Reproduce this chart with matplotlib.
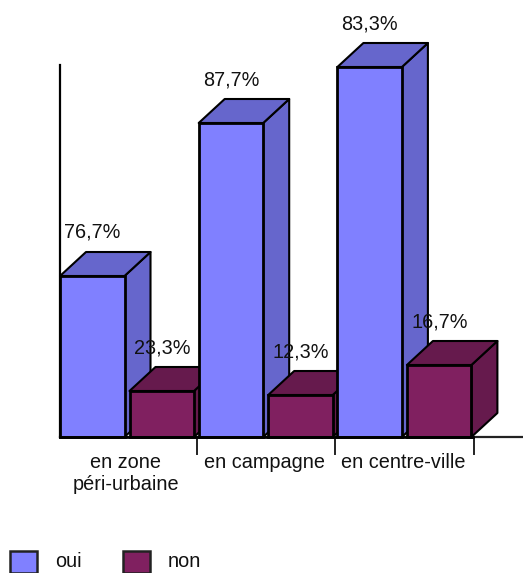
import matplotlib
matplotlib.use("Agg")
import matplotlib.pyplot as plt
from matplotlib.patches import Polygon, Rectangle

plt.rcParams['font.family'] = ['Liberation Sans', 'DejaVu Sans']

categories = ["en zone\npéri-urbaine", "en campagne", "en centre-ville"]
series_names = ["oui", "non"]
# drawn heights do not follow the printed percents in the source chart
oui_heights = [161, 314, 370]
non_heights = [46, 42, 72]
oui_labels = ["76,7%", "87,7%", "83,3%"]
non_labels = ["23,3%", "12,3%", "16,7%"]

BLUE = "#8080ff"
BLUE_DARK = "#6666cc"
MAROON = "#802060"
MAROON_DARK = "#661a4d"


def draw_box(ax, x, width, height, front, side):
    dx = 26
    dy = 24
    ax.add_patch(Polygon([(x + width, 0), (x + width + dx, dy),
                          (x + width + dx, height + dy), (x + width, height)],
                         facecolor=side, edgecolor="black", lw=1.5, joinstyle="round"))
    ax.add_patch(Polygon([(x, height), (x + dx, height + dy),
                          (x + width + dx, height + dy), (x + width, height)],
                         facecolor=side, edgecolor="black", lw=1.5, joinstyle="round"))
    ax.add_patch(Rectangle((x, 0), width, height, facecolor=front,
                           edgecolor="black", lw=2))


def main():
    fig = plt.figure(figsize=(5.23, 5.73), dpi=100)
    ax = fig.add_axes([0, 0, 1, 1])
    ax.set_xlim(0, 523)
    ax.set_ylim(-136, 437)
    ax.axis("off")

    left = 60
    step = 138.7
    width = 64.5
    font = 14.3

    # axes lines
    ax.plot([left, left], [0, 372], color="black", lw=1.6, zorder=0)
    ax.plot([left, 523], [0, 0], color="#222222", lw=1.6, zorder=0)

    for i in range(len(categories)):
        x = left + i * step
        draw_box(ax, x, width, oui_heights[i], BLUE, BLUE_DARK)
        draw_box(ax, x + 69.5, width, non_heights[i], MAROON, MAROON_DARK)
        ax.plot([x + step - 2, x + step - 2], [0, -17], color="#222222", lw=1.4, zorder=1)
        ax.text(x + 66, -16, categories[i], ha="center", va="top", fontsize=font,
                color="#111111", linespacing=1.22)

    ax.plot([left, 473], [0, 0], color="black", lw=2, zorder=5)

    for i in range(len(categories)):
        x = left + i * step
        ax.text(x + 4, oui_heights[i] + 43.5, oui_labels[i], ha="left", va="center",
                fontsize=font, color="#111111", zorder=6)
        ax.text(x + 74, non_heights[i] + 43.5, non_labels[i], ha="left", va="center",
                fontsize=font, color="#111111", zorder=6)

    # legend
    for x, name, color in zip([10, 123], series_names, [BLUE, MAROON]):
        ax.add_patch(Rectangle((x, -136), 27, 22, facecolor=color, edgecolor="#222222",
                               lw=1.8, clip_on=False))
        ax.text(x + 45, -124.5, name, ha="left", va="center", fontsize=font, color="#111111")

    fig.savefig("out.png", dpi=100)


if __name__ == "__main__":
    main()
